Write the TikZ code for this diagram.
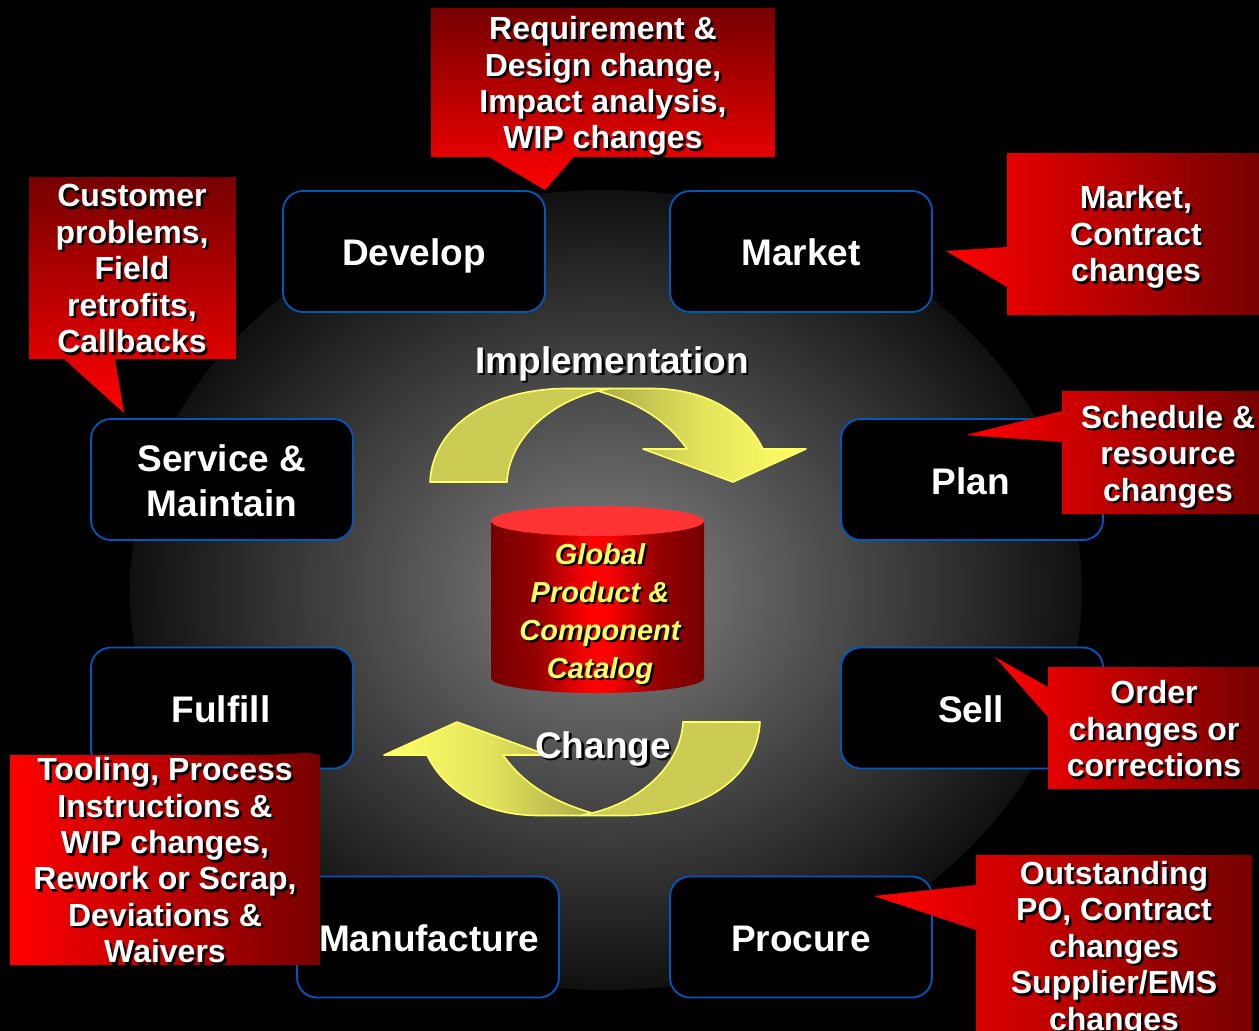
\documentclass[tikz,border=0pt]{standalone}
\usepackage{fontspec}
\setmainfont{Liberation Sans}
\definecolor{boxblue}{RGB}{0,88,190}
\definecolor{redhi}{RGB}{255,0,0}
\definecolor{redlo}{RGB}{118,0,0}
\definecolor{redmd}{RGB}{150,0,0}
\definecolor{cyltop}{RGB}{255,51,51}
\definecolor{yel}{RGB}{255,255,102}
\definecolor{yelmid}{RGB}{204,204,85}
\definecolor{yeldark}{RGB}{172,170,72}
\definecolor{yelhi}{RGB}{228,228,92}
\definecolor{glowin}{RGB}{132,132,132}
\definecolor{glowout}{RGB}{16,16,16}
\pgfdeclareradialshading{glow}{\pgfpointorigin}{color(0bp)=(glowin); color(25bp)=(glowout); color(50bp)=(glowout)}
\pgfdeclarehorizontalshading{cylbody}{100bp}{color(0bp)=(redlo); color(25bp)=(redlo); color(36bp)=(redmd); color(48bp)=(redhi); color(52bp)=(redhi); color(64bp)=(redmd); color(75bp)=(redlo); color(100bp)=(redlo)}
\tikzset{
  procbox/.style={draw=boxblue,line width=1.8pt,fill=black,rounded corners=20pt,minimum width=262pt,minimum height=121pt,inner sep=0pt},
  lbl/.style={font=\bfseries,align=center,inner sep=0pt,text=white},
  lblbig/.style={lbl,font=\fontsize{37}{45}\selectfont\bfseries},
  lblcall/.style={lbl,font=\fontsize{32}{36.4}\selectfont\bfseries},
  lblhead/.style={lbl,font=\fontsize{37}{42}\selectfont\bfseries},
  lblcyl/.style={lbl,text=yel,font=\fontsize{29}{38}\selectfont\bfseries\itshape},
  calloutH/.style={left color=redhi,right color=redlo},
  calloutV/.style={top color=redlo,bottom color=redhi},
  armfill/.style={fill=yelmid,draw=yel,line width=1.6pt,line join=round},
  headA/.style={left color=yeldark,right color=yel,middle color=yelhi,draw=yel,line width=1.6pt,line join=round},
  headB/.style={left color=yel,right color=yeldark,middle color=yelhi,draw=yel,line width=1.6pt,line join=round},
}
\newcommand\stext[5]{%
  \node[#4,text=black,xshift=2.5pt,yshift=-2.5pt] (#1s) at (#2,#3) {\strut#5\strut};
  \node[#4] (#1) at (#2,#3) {\strut#5\strut};
}
\newcommand\wtext[5]{\node[#4] (#1) at (#2,#3) {\strut#5\strut};}
\def\armpath{(430,482) -- (507,482) .. controls (509,440) and (548,403) .. (598,391) -- (610,388.5) -- (563,388.5) .. controls (490,390) and (433,425) .. (430,482) -- cycle}
\def\headpath{(598,391) -- (610,388.5) -- (653,388.5) .. controls (705,389) and (745,412) .. (763,449) -- (806,449) -- (733,482) -- (643,449) -- (687,449) .. controls (665,418) and (635,402) .. (598,391) -- cycle}
\begin{document}
\begin{tikzpicture}[x=1pt,y=-1pt]
\useasboundingbox (0,0) rectangle (1259,1031);
\fill[black] (0,0) rectangle (1259,1031);
% glow
\shade[shading=glow] (606,590) ellipse [x radius=476,y radius=400];
% process boxes
\node[procbox] (develop) at (414,251.5) {};
\node[procbox] (market) at (801,251.5) {};
\node[procbox] (service) at (222,479.5) {};
\node[procbox] (plan) at (972,479.5) {};
\node[procbox] (fulfill) at (222,708) {};
\node[procbox] (sell) at (972,708) {};
\node[procbox] (manufacture) at (428,937) {};
\node[procbox] (procure) at (801,937) {};
\wtext{tdevelop}{414}{256}{lblbig}{Develop}
\wtext{tmarket}{801}{256}{lblbig}{Market}
\wtext{tservice}{222}{485}{lblbig}{Service \&\\Maintain}
\wtext{tplan}{971}{485}{lblbig}{Plan}
\wtext{tfulfill}{221}{713}{lblbig}{Fulfill}
\wtext{tsell}{971}{713}{lblbig}{Sell}
\wtext{tmanufacture}{429}{942}{lblbig}{Manufacture}
\wtext{tprocure}{801}{942}{lblbig}{Procure}
% arrows
\path[armfill] \armpath;
\path[headA] \headpath;
\begin{scope}[rotate around={180:(595,602)}]
\path[armfill] \armpath;
\path[headB] \headpath;
\end{scope}
% cylinder
\shade[shading=cylbody] (491,522) -- (491,678) .. controls (491,686.3) and (538.9,693) .. (597.5,693) .. controls (656.1,693) and (704,686.3) .. (704,678) -- (704,522) -- cycle;
\fill[cyltop] (597.5,521) ellipse [x radius=106.5,y radius=15];
\stext{tcat}{600}{613.5}{lblcyl}{Global\\Product \&\\Component\\Catalog}
\stext{timpl}{612}{364.6}{lblhead}{Implementation}
\stext{tchange}{603}{749.6}{lblhead}{Change}
% callouts
\path[calloutV] (431,8) -- (775,8) -- (775,157) -- (574,157) -- (545,190) -- (489,157) -- (431,157) -- cycle;
\stext{creq}{603}{87}{lblcall}{Requirement \&\\Design change,\\Impact analysis,\\WIP changes}
\path[calloutV] (29,177) -- (236,177) -- (236,359) -- (115,359) -- (124,413) -- (64,359) -- (29,359) -- cycle;
\stext{ccust}{132}{272.5}{lblcall}{Customer\\problems,\\Field\\retrofits,\\Callbacks}
\path[calloutH] (1007,153) -- (1259,153) -- (1259,315) -- (1007,315) -- (1007,287) -- (946,251) -- (1007,247) -- cycle;
\stext{cmark}{1136}{238}{lblcall}{Market,\\Contract\\changes}
\path[calloutH] (1062,391) -- (1259,391) -- (1259,514) -- (1062,514) -- (1062,442) -- (966,435) -- (1062,411) -- cycle;
\stext{csched}{1168}{457.5}{lblcall}{Schedule \&\\resource\\changes}
\path[calloutH] (1048,667) -- (1259,667) -- (1259,789) -- (1048,789) -- (1048,717) -- (995,657) -- (1048,687) -- cycle;
\stext{corder}{1154}{733}{lblcall}{Order\\changes or\\corrections}
\path[calloutH] (976,855) -- (1252,855) -- (1252,1031) -- (976,1031) -- (976,930) -- (874,896) -- (976,885) -- cycle;
\stext{coutst}{1114}{950}{lblcall}{Outstanding\\PO, Contract\\changes\\Supplier/EMS\\changes}
\path[calloutH] (10,755) -- (265,755) -- (308,752.8) -- (320,755) -- (320,965) -- (10,965) -- cycle;
\stext{ctool}{165}{864.5}{lblcall}{Tooling, Process\\Instructions \&\\WIP changes,\\Rework or Scrap,\\Deviations \&\\Waivers}
\end{tikzpicture}
\end{document}
